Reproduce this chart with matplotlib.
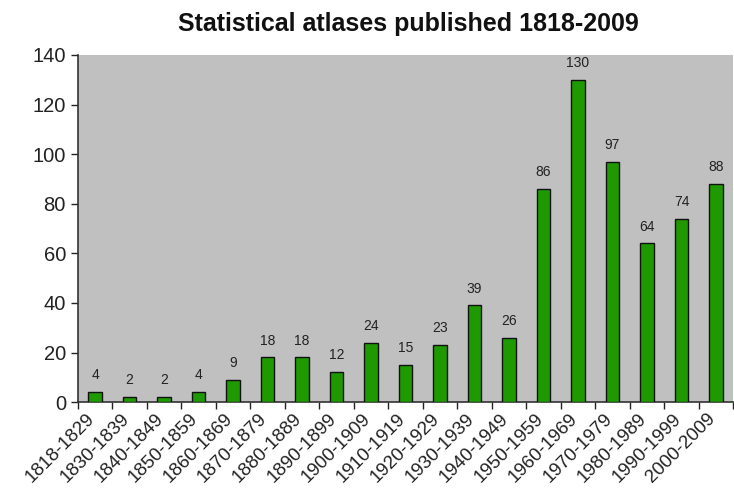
import matplotlib.pyplot as plt
import matplotlib.transforms as mtransforms
import numpy as np

plt.rcParams['font.family'] = ['Liberation Sans', 'DejaVu Sans']

periods = ["1818-1829", "1830-1839", "1840-1849", "1850-1859", "1860-1869",
           "1870-1879", "1880-1889", "1890-1899", "1900-1909", "1910-1919",
           "1920-1929", "1930-1939", "1940-1949", "1950-1959", "1960-1969",
           "1970-1979", "1980-1989", "1990-1999", "2000-2009"]
counts = [4, 2, 2, 4, 9, 18, 18, 12, 24, 15, 23, 39, 26, 86, 130, 97, 64, 74, 88]

fig = plt.figure(figsize=(7.34, 4.91), dpi=100)
ax = fig.add_axes([0.106, 0.181, 0.893, 0.707])
ax.set_facecolor('#c0c0c0')

x = np.arange(len(periods))
ax.bar(x, counts, width=0.4, color='#1f9900', edgecolor='#111111', linewidth=1.0, zorder=3)
for xi, v in zip(x, counts):
    ax.text(xi, v + 4, str(v), ha='center', va='bottom', fontsize=10, color='#222222')

ax.set_xlim(-0.5, len(periods) - 0.5)
ax.set_ylim(0, 140)
ax.set_yticks(range(0, 141, 20))
ax.tick_params(axis='y', labelsize=14.5, length=5, width=1, colors='#222222')

# ticks sit between categories, labels sit on the category centres
ax.set_xticks(np.arange(-0.5, len(periods), 1.0))
ax.set_xticklabels([])
ax.set_xticks(x, minor=True)
ax.set_xticklabels(periods, minor=True, rotation=45, ha='right',
                   rotation_mode='anchor', fontsize=13.5, color='#222222')
ax.tick_params(axis='x', which='major', length=5, width=1, colors='#222222')
ax.tick_params(axis='x', which='minor', length=0, pad=6)

# nudge the slanted labels a bit to the left
shift = mtransforms.ScaledTranslation(-0.09, 0, fig.dpi_scale_trans)
for lab in ax.get_xticklabels(minor=True):
    lab.set_transform(lab.get_transform() + shift)

for s in ['top', 'right']:
    ax.spines[s].set_visible(False)
for s in ['left', 'bottom']:
    ax.spines[s].set_color('#333333')
    ax.spines[s].set_linewidth(1.2)

fig.suptitle("Statistical atlases published 1818-2009", x=0.556, y=0.976,
             fontsize=18, fontweight='bold', color='#111111')

fig.savefig("out.png", dpi=100)
